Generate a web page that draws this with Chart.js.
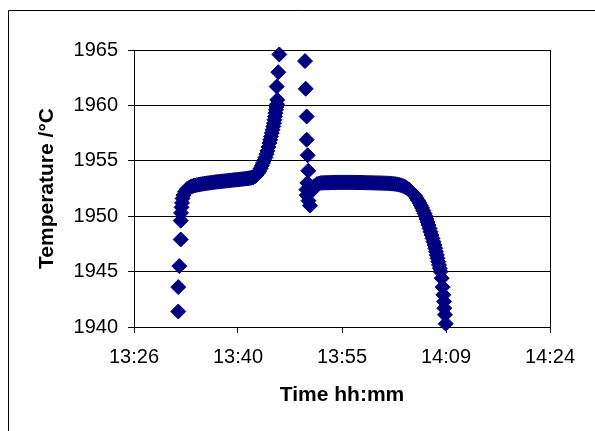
<!DOCTYPE html>
<html><head><meta charset="utf-8">
<script src="https://cdn.jsdelivr.net/npm/chart.js@4"></script>
<style>html,body{margin:0;padding:0;background:#fff}canvas{display:block}</style>
</head><body>
<canvas id="c" width="595" height="431"></canvas>
<script>
// x values are minutes after midnight
const xTickValues = [806.4, 820.8, 835.2, 849.6, 864];
const xTickLabels = ['13:26', '13:40', '13:55', '14:09', '14:24'];
const yTickValues = [1940, 1945, 1950, 1955, 1960, 1965];

const seg1Time = [812.53, 812.53, 812.67, 812.87, 812.87, 812.91, 812.98, 813.05, 813.12, 813.25, 813.46, 813.74, 814.08, 814.26, 814.43, 814.64, 814.85, 815.12, 815.40, 815.68, 815.95, 816.23, 816.51, 816.78, 817.06, 817.34, 817.62, 817.89, 818.17, 818.45, 818.72, 819.00, 819.28, 819.55, 819.83, 820.11, 820.38, 820.66, 820.94, 821.22, 821.49, 821.77, 822.05, 822.25, 822.46, 822.67, 822.88,
  823.15, 823.36, 823.57, 823.75, 823.92, 824.10, 824.26, 824.44, 824.61, 824.75, 824.88, 825.02, 825.16, 825.27, 825.37, 825.48, 825.58, 825.69, 825.78, 825.85, 825.92, 825.99, 826.06, 826.13, 826.20, 826.24, 826.16, 826.38, 826.52];
const seg1Temp = [1941.4, 1943.6, 1945.5, 1947.9, 1949.6, 1950.3, 1950.8, 1951.2, 1951.6, 1951.9, 1952.2, 1952.45, 1952.6, 1952.65, 1952.7, 1952.74, 1952.78, 1952.82, 1952.85, 1952.89, 1952.92, 1952.95, 1952.98, 1953.0, 1953.03, 1953.05, 1953.08, 1953.1, 1953.12, 1953.14, 1953.16, 1953.18, 1953.2, 1953.22, 1953.24, 1953.26, 1953.28, 1953.3, 1953.32, 1953.34, 1953.36, 1953.38, 1953.4, 1953.42, 1953.45, 1953.47, 1953.5,
  1953.6, 1953.72, 1953.9, 1954.08, 1954.3, 1954.55, 1954.8, 1955.05, 1955.3, 1955.6, 1955.9, 1956.25, 1956.6, 1956.9, 1957.2, 1957.5, 1957.8, 1958.1, 1958.4, 1958.7, 1959.0, 1959.3, 1959.6, 1959.85, 1960.1, 1960.5, 1961.7, 1963.0, 1964.6];

const seg2Time = [830.08, 830.17, 830.31, 830.31, 830.45, 830.53, 830.40, 830.28, 830.31, 830.56, 830.77, 831.05, 831.32, 831.74, 832.02, 832.29, 832.57, 832.85, 833.12, 833.40, 833.68, 833.95, 834.23, 834.51, 834.78, 835.06, 835.34, 835.62, 835.89, 836.17, 836.45, 836.72, 837.00, 837.28, 837.55, 837.83, 838.11, 838.38, 838.66, 838.94, 839.22, 839.49, 839.77, 840.05, 840.32, 840.60, 840.88, 841.15, 841.43, 841.71, 841.98, 842.26, 842.54, 842.81, 843.09, 843.37, 843.65, 843.92, 844.20, 844.48, 844.75,
  845.03, 845.31, 845.52, 845.72, 845.93, 846.11, 846.28, 846.46, 846.62, 846.76, 846.90, 847.04, 847.18, 847.32, 847.45, 847.59, 847.73, 847.87, 848.01, 848.12, 848.22, 848.33, 848.42, 848.53, 848.63, 848.74, 848.84,
  849.00, 849.14, 849.23, 849.32, 849.36, 849.46, 849.56];
const seg2Temp = [1964.0, 1961.5, 1959.0, 1956.9, 1955.5, 1954.1, 1953.0, 1952.4, 1951.9, 1951.4, 1950.95, 1952.3, 1952.7, 1952.9, 1952.96, 1953.0, 1953.01, 1953.02, 1953.025, 1953.03, 1953.035, 1953.04, 1953.045, 1953.05, 1953.05, 1953.05, 1953.05, 1953.05, 1953.05, 1953.05, 1953.05, 1953.05, 1953.045, 1953.04, 1953.04, 1953.04, 1953.035, 1953.03, 1953.025, 1953.02, 1953.015, 1953.01, 1953.005, 1953.0, 1952.995, 1952.99, 1952.985, 1952.98, 1952.97, 1952.96, 1952.945, 1952.93, 1952.91, 1952.88, 1952.84, 1952.8, 1952.73, 1952.65, 1952.53, 1952.4, 1952.23,
  1952.05, 1951.85, 1951.65, 1951.43, 1951.2, 1950.98, 1950.75, 1950.5, 1950.25, 1950.0, 1949.75, 1949.48, 1949.2, 1948.9, 1948.6, 1948.3, 1948.0, 1947.7, 1947.4, 1947.1, 1946.8, 1946.5, 1946.2, 1945.9, 1945.6, 1945.3, 1945.0,
  1944.4, 1943.6, 1942.9, 1942.3, 1941.7, 1941.1, 1940.3];

const toPts = (xs, ys) => xs.map((x, i) => ({x: x, y: ys[i]}));
const NAVY = '#000080';
const FONT = "'Liberation Sans', Arial, sans-serif";

const framePlugin = {
  id: 'frame',
  afterDraw(chart) {
    const ctx = chart.ctx, a = chart.chartArea;
    ctx.save();
    ctx.strokeStyle = '#000';
    ctx.lineWidth = 1;
    ctx.beginPath();
    ctx.moveTo(Math.round(a.right) + 0.5, Math.round(a.top));
    ctx.lineTo(Math.round(a.right) + 0.5, Math.round(a.bottom) + 6);
    ctx.stroke();
    ctx.beginPath();
    ctx.moveTo(8.5, 431);
    ctx.lineTo(8.5, 10.5);
    ctx.lineTo(595, 10.5);
    ctx.stroke();
    ctx.restore();
  }
};

const ds = (xs, ys) => ({
  data: toPts(xs, ys),
  showLine: false,
  pointStyle: 'rectRot',
  pointRadius: 7.5,
  pointBorderWidth: 1,
  pointBackgroundColor: NAVY,
  pointBorderColor: NAVY,
  clip: false
});

new Chart(document.getElementById('c'), {
  type: 'scatter',
  data: { datasets: [ds(seg1Time, seg1Temp), ds(seg2Time, seg2Temp)] },
  options: {
    responsive: false,
    animation: false,
    devicePixelRatio: 1,
    layout: { padding: { top: 50, right: 45, left: 0, bottom: 0 } },
    plugins: { legend: { display: false }, tooltip: { enabled: false } },
    scales: {
      x: {
        type: 'linear',
        min: xTickValues[0],
        max: xTickValues[xTickValues.length - 1],
        afterBuildTicks: s => { s.ticks = xTickValues.map(v => ({value: v})); },
        afterFit: s => { s.height = 104; },
        ticks: {
          autoSkip: false, maxRotation: 0, padding: 12, color: '#000',
          font: { family: FONT, size: 20 },
          callback: (v, i) => xTickLabels[i]
        },
        grid: { drawOnChartArea: false, drawTicks: true, tickLength: 6, color: '#000' },
        border: { display: true, color: '#000', width: 1 },
        title: {
          display: true, text: 'Time hh:mm', color: '#000',
          font: { family: FONT, size: 21, weight: 'bold' },
          padding: { top: 0, bottom: 23 }
        }
      },
      y: {
        type: 'linear',
        min: yTickValues[0],
        max: yTickValues[yTickValues.length - 1],
        afterBuildTicks: s => { s.ticks = yTickValues.map(v => ({value: v})); },
        afterFit: s => { s.width = 134; },
        ticks: {
          padding: 10, color: '#000', font: { family: FONT, size: 20 },
          callback: v => String(v)
        },
        grid: { color: '#000', lineWidth: 1, tickLength: 6, drawTicks: true },
        border: { display: true, color: '#000', width: 1 },
        title: {
          display: true, text: 'Temperature /°C', color: '#000',
          font: { family: FONT, size: 21, weight: 'bold' },
          padding: { top: 35, bottom: 0 }
        }
      }
    }
  },
  plugins: [framePlugin]
});
</script>
</body></html>
